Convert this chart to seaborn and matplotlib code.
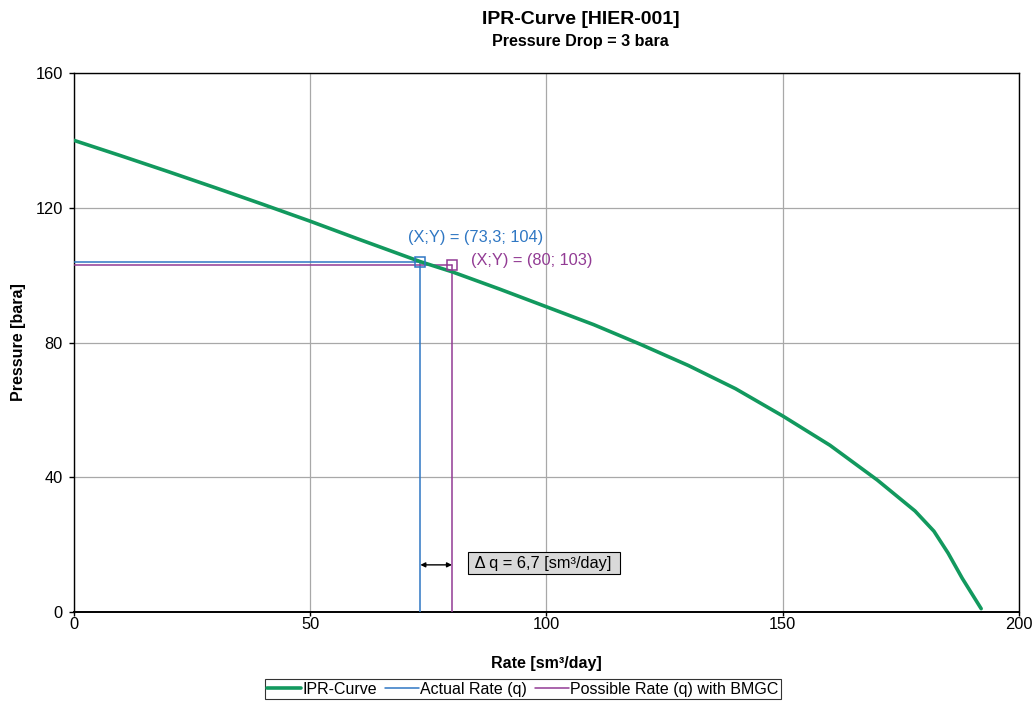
import matplotlib
matplotlib.use("Agg")
import matplotlib.pyplot as plt
from matplotlib.lines import Line2D
import seaborn as sns
import pandas as pd

# IPR curve: rate [sm³/day] vs. pressure [bara]
rate = [0, 10, 20, 30, 40, 50, 60, 73.3, 80, 90, 100, 110, 120, 130, 140,
        150, 160, 170, 178, 182, 185, 188, 192]
pressure = [140, 135.4, 130.7, 125.9, 121, 116, 110.8, 104, 101, 95.9, 90.6,
            85.3, 79.4, 73.2, 66.3, 58.2, 49.5, 39.2, 30, 24, 17.5, 10, 1]

# operating points
actual_q, actual_p = 73.3, 104
possible_q, possible_p = 80, 103
delta_q = 6.7

x_ticks = [0, 50, 100, 150, 200]
y_ticks = [0, 40, 80, 120, 160]

GREEN = "#12995e"
BLUE = "#2f77c3"
PURPLE = "#923b94"
FS = 11.8

sns.set_theme(style="ticks")
plt.rcParams["font.family"] = ["Liberation Sans", "DejaVu Sans"]
for key in ("text.color", "axes.labelcolor", "xtick.color", "ytick.color"):
    plt.rcParams[key] = "black"

fig = plt.figure(figsize=(10.35, 7.06), dpi=100)
ax = fig.add_axes([0.0715, 0.1331, 0.913, 0.7635])

df = pd.DataFrame({"rate": rate, "pressure": pressure})
sns.lineplot(data=df, x="rate", y="pressure", ax=ax, color=GREEN, lw=2.6,
             sort=False, zorder=4)

# actual rate guide lines and marker
ax.plot([0, actual_q], [actual_p, actual_p], color=BLUE, lw=1.1, zorder=3)
ax.plot([actual_q, actual_q], [0, actual_p], color=BLUE, lw=1.1, zorder=3)
ax.plot([actual_q], [actual_p], marker="s", ms=7, mfc="none", mec=BLUE,
        mew=1.1, zorder=5)

# possible rate guide lines and marker
ax.plot([0, possible_q], [possible_p, possible_p], color=PURPLE, lw=1.1, zorder=3)
ax.plot([possible_q, possible_q], [0, possible_p], color=PURPLE, lw=1.1, zorder=3)
ax.plot([possible_q], [possible_p], marker="s", ms=7, mfc="none", mec=PURPLE,
        mew=1.1, zorder=5)

ax.text(70.6, 111.2, f"(X;Y) = ({str(actual_q).replace('.', ',')}; {actual_p})",
        color=BLUE, fontsize=FS, va="center", ha="left")
ax.text(84.0, 104.3, f"(X;Y) = ({possible_q}; {possible_p})",
        color=PURPLE, fontsize=FS, va="center", ha="left")

# delta-q arrow and box
ax.annotate("", xy=(actual_q, 14), xytext=(possible_q, 14),
            arrowprops=dict(arrowstyle="<|-|>", color="black", lw=1,
                            mutation_scale=7, shrinkA=0, shrinkB=0))
ax.text(84.1, 14.5, f" Δ q = {str(delta_q).replace('.', ',')} [sm³/day] ",
        fontsize=FS, va="center", ha="left",
        bbox=dict(boxstyle="square,pad=0.2", fc="#d9d9d9", ec="black", lw=0.8))

ax.set_xlim(0, 200)
ax.set_ylim(0, 160)
ax.set_xticks(x_ticks)
ax.set_yticks(y_ticks)
ax.grid(True, color="#a8a8a8", lw=0.9)
ax.tick_params(axis="x", labelsize=FS, length=3, width=1, direction="out", pad=0.5)
ax.tick_params(axis="y", labelsize=FS, length=3.5, width=1, direction="out", pad=4.5)
for s in ax.spines.values():
    s.set_color("black")
    s.set_linewidth(1)
    s.set_visible(True)
ax.spines["bottom"].set_linewidth(1.4)

ax.set_xlabel("Rate [sm³/day]", fontsize=11.5, fontweight="bold", labelpad=17)
ax.set_ylabel("Pressure [bara]", fontsize=11.5, fontweight="bold", labelpad=7)

fig.text(0.561, 0.972, "IPR-Curve [HIER-001]", ha="center", va="center",
         fontsize=14, fontweight="bold")
fig.text(0.561, 0.941, "Pressure Drop = 3 bara", ha="center", va="center",
         fontsize=11.6, fontweight="bold")

handles = [Line2D([], [], color=GREEN, lw=2.6),
           Line2D([], [], color=BLUE, lw=1.1),
           Line2D([], [], color=PURPLE, lw=1.1)]
labels = ["IPR-Curve", "Actual Rate (q)", "Possible Rate (q) with BMGC"]
leg = ax.legend(handles, labels, loc="center", bbox_to_anchor=(0.475, -0.143),
                ncol=3, fontsize=11.5, frameon=True, fancybox=False,
                handlelength=2.1, handletextpad=0.1, columnspacing=0.5,
                borderpad=0.15, borderaxespad=0)
leg.get_frame().set_edgecolor("black")
leg.get_frame().set_linewidth(0.8)

fig.savefig("out.png", dpi=100, facecolor="white")
